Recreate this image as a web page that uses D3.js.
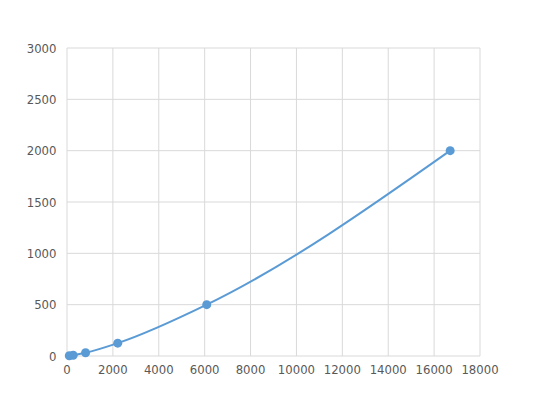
<!DOCTYPE html>
<html>
<head>
<meta charset="utf-8">
<script src="https://cdn.jsdelivr.net/npm/d3@7"></script>
<style>
  html, body { margin: 0; padding: 0; background: #fff; }
  text { font-family: "DejaVu Sans", sans-serif; }
</style>
</head>
<body>
<svg id="chart" width="533" height="400"></svg>
<script>
// Valores
const xValues = [100, 270, 810, 2210, 6090, 16700];
const yValues = [1.95, 7.8, 31.25, 125, 500, 2000];
const xTicks = [0, 2000, 4000, 6000, 8000, 10000, 12000, 14000, 16000, 18000];
const yTicks = [0, 500, 1000, 1500, 2000, 2500, 3000];

const svg = d3.select('#chart');
const M = { left: 67, right: 53, top: 48, bottom: 44 };
const W = 533, H = 400;

const x = d3.scaleLinear().domain([0, 18000]).range([M.left, W - M.right]);
const y = d3.scaleLinear().domain([0, 3000]).range([H - M.bottom, M.top]);

const grid = svg.append('g');
grid.selectAll('.vx').data(xTicks).join('line')
  .attr('x1', d => x(d)).attr('x2', d => x(d))
  .attr('y1', y(0)).attr('y2', y(3000))
  .attr('stroke', '#d9d9d9').attr('stroke-width', 1);
grid.selectAll('.hy').data(yTicks).join('line')
  .attr('x1', x(0)).attr('x2', x(18000))
  .attr('y1', d => y(d)).attr('y2', d => y(d))
  .attr('stroke', '#d9d9d9').attr('stroke-width', 1);

// Etiquetas de ejes
svg.append('g').selectAll('text').data(xTicks).join('text')
  .attr('x', d => x(d)).attr('y', y(0) + 17.5)
  .attr('text-anchor', 'middle')
  .attr('font-size', 11.7).attr('fill', '#595959')
  .text(d => d);
svg.append('g').selectAll('text').data(yTicks).join('text')
  .attr('x', x(0) - 10.5).attr('y', d => y(d) + 4.5)
  .attr('text-anchor', 'end')
  .attr('font-size', 11.7).attr('fill', '#595959')
  .text(d => d);

const pts = xValues.map((v, i) => [v, yValues[i]]);
const line = d3.line()
  .x(d => x(d[0])).y(d => y(d[1]))
  .curve(d3.curveMonotoneX);

svg.append('path').datum(pts)
  .attr('d', line)
  .attr('fill', 'none')
  .attr('stroke', '#5b9bd5')
  .attr('stroke-width', 2);

svg.append('g').selectAll('circle').data(pts).join('circle')
  .attr('cx', d => x(d[0])).attr('cy', d => y(d[1]))
  .attr('r', 4.5)
  .attr('fill', '#5b9bd5');
</script>
</body>
</html>
